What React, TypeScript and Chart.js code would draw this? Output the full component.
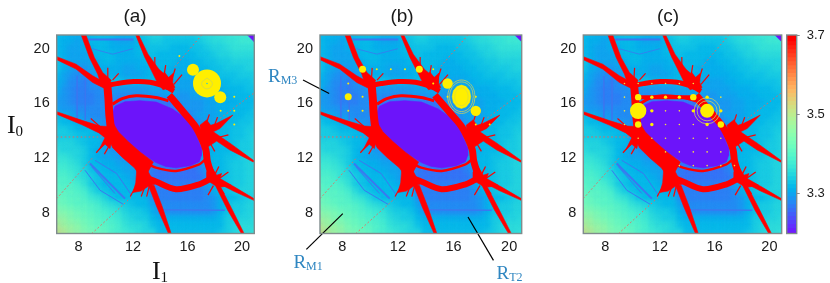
import React, { useEffect, useRef } from "react";
import { Chart, registerables } from "chart.js";

Chart.register(...registerables);

const axisTicks = [8, 12, 16, 20];
const colorbarTicks = [3.3, 3.5, 3.7];
const colorbarLevels = [3.2, 3.21, 3.22, 3.23, 3.24, 3.25, 3.26, 3.27, 3.28, 3.29, 3.3, 3.31, 3.32, 3.33, 3.34, 3.35, 3.36, 3.37, 3.38, 3.39, 3.4, 3.41, 3.42, 3.43, 3.44, 3.45, 3.46, 3.47, 3.48, 3.49, 3.5, 3.51, 3.52, 3.53, 3.54, 3.55, 3.56, 3.57, 3.58, 3.59, 3.6, 3.61, 3.62, 3.63, 3.64, 3.65, 3.66, 3.67, 3.68, 3.69, 3.7];

const fieldColumns = [6.5, 7, 7.5, 8, 8.5, 9, 9.5, 10, 10.5, 11, 11.5, 12, 12.5, 13, 13.5, 14, 14.5, 15, 15.5, 16, 16.5, 17, 17.5, 18, 18.5, 19, 19.5, 20, 20.5, 21];
const fieldRowsY = [21, 20.5, 20, 19.5, 19, 18.5, 18, 17.5, 17, 16.5, 16, 15.5, 15, 14.5, 14, 13.5, 13, 12.5, 12, 11.5, 11, 10.5, 10, 9.5, 9, 8.5, 8, 7.5, 7, 6.5];
// values are (quantity - 3) * 100
const fieldValues = [
  [33,33,32,32,32,33,34,34,34,33,33,33,34,35,36,36,35,35,35,35,35,36,37,37,38,38,39,39,39,39],
  [33,32,32,31,32,33,33,33,32,31,31,31,33,34,35,35,34,34,34,34,34,35,36,37,37,38,38,39,39,39],
  [33,32,31,31,32,32,33,33,32,32,32,32,33,34,34,34,34,33,33,33,34,34,35,36,36,37,38,38,38,38],
  [33,32,31,31,31,32,33,33,33,32,32,32,33,33,34,33,33,33,33,33,33,34,34,35,36,36,37,37,37,37],
  [34,32,31,31,31,31,32,33,33,32,32,32,32,33,33,33,33,33,32,32,33,33,34,34,35,35,36,36,36,36],
  [34,32,31,30,30,31,32,32,32,32,31,31,32,32,33,33,33,32,32,32,32,33,33,34,34,35,35,35,36,36],
  [33,31,30,29,29,30,31,32,32,32,31,31,31,32,33,33,32,32,32,32,32,32,33,33,34,34,34,35,35,35],
  [32,31,29,29,28,29,30,31,34,34,33,33,33,33,33,33,32,32,31,31,31,32,32,33,33,33,34,34,34,35],
  [32,30,29,28,28,29,29,30,30,30,30,30,30,30,31,31,31,31,31,31,31,31,32,32,32,33,33,33,34,34],
  [31,30,29,28,28,28,29,29,30,29,29,29,29,30,30,30,31,31,30,30,31,31,31,32,32,32,33,33,33,34],
  [30,30,29,28,28,28,29,29,29,27,27,27,27,27,27,27,27,27,30,30,30,30,31,31,32,32,32,33,33,33],
  [31,30,30,29,29,29,29,29,27,27,27,27,27,27,27,27,27,27,28,30,30,30,31,31,32,32,33,33,33,34],
  [33,33,31,30,30,29,29,29,27,27,27,27,27,27,27,27,27,27,27,27,30,31,31,31,32,33,33,33,34,34],
  [34,33,33,32,31,30,30,29,27,27,27,27,27,27,27,27,27,27,27,27,27,30,31,31,32,33,33,34,34,35],
  [35,35,34,33,33,33,31,30,27,27,27,27,27,27,27,27,27,27,27,27,27,29,32,32,33,33,34,34,35,35],
  [35,35,35,34,34,33,33,30,27,27,27,27,27,27,27,27,27,27,27,27,27,29,33,33,33,33,34,34,35,36],
  [36,36,36,35,34,33,33,31,30,27,27,27,27,27,27,27,27,27,27,27,27,29,32,33,33,33,34,35,35,36],
  [37,36,36,36,35,33,32,31,30,29,27,27,27,27,27,27,27,27,27,27,27,30,32,32,33,33,34,35,35,36],
  [38,38,37,36,35,33,32,31,31,30,29,27,27,27,27,27,27,27,27,27,27,31,32,33,33,34,34,35,36,36],
  [39,39,38,37,35,33,33,32,32,31,31,30,28,27,27,27,27,27,27,27,27,29,32,33,33,34,35,35,36,36],
  [40,40,39,38,36,34,33,33,32,32,31,31,30,30,28,27,27,27,27,27,27,28,30,33,33,34,35,35,36,36],
  [41,41,40,38,37,35,34,33,33,33,32,31,30,29,27,27,27,27,27,27,27,27,29,31,33,34,35,35,36,36],
  [42,41,41,40,38,35,34,33,33,33,33,32,31,30,29,28,28,28,28,28,28,29,31,32,33,34,35,35,36,36],
  [43,42,42,41,40,37,35,34,33,33,33,33,32,32,28,28,28,28,28,28,28,28,29,32,33,34,35,36,36,36],
  [44,43,42,42,41,39,38,36,34,33,33,33,33,33,29,28,28,28,28,28,28,28,29,30,32,33,33,34,35,36],
  [45,44,43,42,42,41,40,38,37,36,35,34,33,33,31,29,29,29,29,29,29,29,29,30,32,34,35,35,36,36],
  [47,46,45,44,43,42,41,40,39,38,36,35,35,34,32,30,29,29,29,29,29,29,29,30,32,34,35,35,36,36],
  [49,48,46,45,44,43,42,41,40,39,37,36,35,35,33,32,32,32,32,32,32,32,32,32,33,35,35,36,36,37],
  [51,49,48,47,45,44,43,42,41,40,38,37,37,36,34,33,33,33,33,33,33,33,33,33,33,35,36,37,37,37],
  [53,51,49,48,46,45,44,43,41,40,39,38,37,36,36,33,33,33,33,33,33,33,33,33,34,35,36,37,37,38],
];

type Pt = [number, number];

const purpleEllipse: Pt[] = [[10.43,15.15],[10.68,15.8],[11.4,16.12],[12.5,16.2],[13.7,16.1],[14.9,15.6],[16.13,14.73],[16.6,13.75],[17,12.8],[17.02,12.2],[16.86,11.75],[16.2,11.45],[15.15,11.3],[14.4,11.4],[13.68,11.68],[12.51,12.46],[11.66,13.2],[10.92,13.93],[10.56,14.54],[10.43,15.15]];
const purpleCorner: Pt[] = [[20.4,21],[20.9,21],[20.9,20.5],[20.4,21]];

const redBands: Pt[][] = [
  [[10,17.3],[10.8,17.45],[12.02,17.6],[13.25,17.55],[14.47,17.2],[15,16.9]],
  [[10.5,15.95],[11.2,16.35],[12.22,16.56],[13.68,16.44],[14.6,16.2]],
  [[10.1,17.5],[10.2,16.3],[10.26,15.2],[10.4,14]],
  [[14.66,16.6],[15.76,15.3],[16.55,14.35],[17.05,13.4],[17.35,12.6],[17.45,11.8],[17.75,10.8]],
  [[13,11.65],[13.68,11.31],[15.15,11.07],[16.86,11.55],[17.3,11.9]],
  [[12.7,10.7],[13.68,10.3],[15.15,9.73],[16.86,10.09],[17.84,10.58]],
];
const redBandWidths = [5, 3, 8, 7, 2.5, 6];

const redSpikes: Pt[][] = [
  [[10.4,15],[10.56,14.54],[10.92,13.93],[11.66,13.2],[12.51,12.46],[13.49,11.73],[13.1,11],[12.6,10.6],[12.1,11.3],[11.24,12.04],[10.5,12.77],[10.2,13.5],[10.1,14.5],[10.4,15]],
  [[8.2,21],[8.55,21],[9.16,19.36],[9.77,18.26],[10.4,17.7],[10.2,17.2],[9.65,17.41],[9.41,18.14],[8.8,19.36],[8.2,21]],
  [[6.4,19.42],[7.82,18.87],[9.04,18.02],[9.8,17.6],[10.1,17],[9.04,17.53],[7.82,18.51],[6.4,19.2],[6.4,19.42]],
  [[12.2,21],[12.42,21],[13.1,19.6],[13.9,18.5],[14.6,17.9],[14.9,17.2],[14.2,17],[13.75,17.6],[13.35,18.4],[12.85,19.4],[12.2,21]],
  [[13.98,17.46],[14.3,18.3],[14.6,17.9],[14.95,18.2],[14.91,17.51],[15.08,17.17],[14.47,17.02],[13.98,17.46]],
  [[6.4,15.4],[8.3,14.75],[9.6,14.35],[10.4,14.3],[10.7,13.3],[10.2,13.3],[9.5,13.85],[8.3,14.42],[6.4,15.22],[6.4,15.4]],
  [[10.56,13.8],[10.31,12.7],[9.95,13.02],[9.5,12.6],[9.98,13.56],[10.56,13.8]],
  [[16.91,14.41],[17.4,14.8],[17.7,14.4],[18.14,14.55],[19.33,15.15],[18.38,14.17],[17.89,13.93],[19.11,13.1],[20.83,11.85],[20.83,11.72],[19.11,12.6],[18.14,13.25],[17.53,12.85],[17.03,13.56],[16.91,14.41]],
  [[17.4,11],[17.77,11.37],[18.14,10.76],[18.5,10.88],[18.38,10.51],[19.23,10.02],[18.5,9.9],[18.01,10.02],[17.4,10.4],[17.4,11]],
  [[18,10.1],[18.4,9.95],[19.3,8.2],[20.15,6.5],[19.95,6.5],[18.95,8.2],[18,10.1]],
  [[18.14,10.51],[19.36,9.95],[20.87,9.05],[20.87,8.92],[19.36,9.6],[18.2,10.2],[18.14,10.51]],
  [[12.27,11.12],[13,11.24],[13.6,10.1],[13.2,10],[12.6,9.6],[12,9.5],[12.2,10.2],[12.27,11.12]],
  [[13.1,10.1],[13.55,10],[14.15,8.44],[14.8,6.5],[14.6,6.5],[13.75,8.44],[13.1,10.1]],
];

const redHairs: Pt[][] = [
  [[9.6,18],[9.2,18.9]],
  [[10.1,17.8],[10.15,18.6]],
  [[10.5,17.7],[10.95,18.2]],
  [[14.2,17.6],[14.4,18.8]],
  [[14.8,17.6],[15.1,18.55]],
  [[15,17.4],[15.6,18.1]],
  [[17.3,14.3],[17.6,15.2]],
  [[17.9,14.2],[18.2,15]],
  [[17.8,13.4],[19,13.7]],
  [[17.6,13.2],[18,12.5]],
  [[10,13.2],[9.3,12.4]],
  [[10.3,13],[9.9,12.3]],
  [[9.7,14.2],[8.9,14.9]],
  [[12.5,10.5],[11.8,9.2]],
  [[12.9,10],[12.6,9.2]],
  [[13.2,10],[13,9.2]],
  [[18,10.8],[18.3,11.4]],
  [[18.3,10.5],[19,11]],
  [[17.9,10],[17.5,9.3]],
  [[18.3,9.9],[18.7,9.4]],
  [[13.6,18.6],[13.6,19.4]],
];

const redDiagonals: Pt[][] = [
  [[6.4,9.05],[9.09,12.1]],
  [[8.97,6.49],[11.9,9.17]],
  [[17.04,21],[14.96,18.56]],
  [[20.83,16.73],[18.38,14.9]],
  [[6.4,13.55],[9.9,13.55]],
];

const blueStreaks: Pt[][] = [
  [[8.72,20.68],[12.02,20.68]],
  [[14.22,8.24],[18.75,8.2]],
  [[8.84,11.61],[11.41,9.05]],
  [[8.48,11.12],[9.58,9.66],[11.29,8.63]],
  [[9.21,11.85],[10.8,10.88],[11.9,9.29]],
  [[8.97,11.37],[10.68,9.42]],
  [[7.9,18],[7.9,14.6]],
  [[8.5,17.8],[8.5,14.8]],
  [[9,20],[10.5,19.6],[12,20]],
];
const blueStreakWidths = [2, 1.5, 2, 1, 1, 1, 1, 1, 0.8];

const panelAHuge: Pt[] = [[17.43,17.46]];
const panelAHalo: Pt[] = [[17.43,17.46]];
const panelALarge: Pt[] = [[16.4,18.46],[18.4,16.46]];
const panelADots: Pt[] = [[15.4,19.46],[19.43,16.49],[19.43,15.46],[19.43,14.46],[18.43,15.46]];

const panelBCore: Pt[] = [[17.24,16.49],[17.15,16.92],[16.9,17.23],[16.57,17.34],[16.24,17.23],[15.99,16.92],[15.9,16.49],[15.99,16.07],[16.24,15.75],[16.57,15.64],[16.9,15.75],[17.15,16.07],[17.24,16.49]];
const panelBRingA: Pt[] = [[17.55,16.49],[17.42,17.1],[17.06,17.55],[16.57,17.71],[16.08,17.55],[15.72,17.1],[15.59,16.49],[15.72,15.88],[16.08,15.43],[16.57,15.27],[17.06,15.43],[17.42,15.88],[17.55,16.49]];
const panelBRingB: Pt[] = [[17.42,16.49],[17.31,17.03],[17,17.43],[16.57,17.57],[16.14,17.43],[15.83,17.03],[15.72,16.49],[15.83,15.95],[16.14,15.55],[16.57,15.41],[17,15.55],[17.31,15.95],[17.42,16.49]];
const panelBRingC: Pt[] = [[17.05,16.49],[16.99,16.82],[16.81,17.05],[16.57,17.14],[16.33,17.05],[16.15,16.82],[16.09,16.49],[16.15,16.16],[16.33,15.93],[16.57,15.84],[16.81,15.93],[16.99,16.16],[17.05,16.49]];
const panelBLarge: Pt[] = [[15.57,17.46],[17.6,15.46]];
const panelBMedium: Pt[] = [[9.46,18.49],[13.54,18.49],[8.43,16.49]];
const panelBDots: Pt[] = [[10.48,18.49],[11.49,18.49],[12.51,18.49],[14.54,18.49],[8.43,17.46],[8.43,15.46],[9.46,15.46],[9.46,16.49],[14.54,17.46],[15.57,16.49],[17.6,16.49],[17.6,14.46],[18.6,14.46]];

const panelCBands: Pt[][] = [
  [[10.41,16.46],[14.44,16.46]],
  [[14.44,16.46],[16.45,14.46]],
];
const panelCHuge: Pt[] = [[10.41,15.46]];
const panelCHalo: Pt[] = [[15.45,15.46]];
const panelCLarge: Pt[] = [[10.41,16.46],[14.44,16.46],[10.41,14.46],[16.45,14.46]];
const panelCSmall: Pt[] = [[11.41,16.46],[12.41,16.46],[13.42,16.46],[11.41,15.46],[15.45,16.46],[16.45,15.46],[14.44,15.46],[15.45,14.46],[11.41,14.46]];
const panelCDots: Pt[] = [[12.41,15.46],[13.42,15.46],[16.45,16.46],[9.41,16.46],[9.41,15.46],[9.41,14.46],[12.41,14.46],[13.42,14.46],[14.44,14.46],[10.41,13.46],[11.41,13.46],[12.41,13.46],[13.42,13.46],[14.44,13.46],[15.45,13.46],[16.45,13.46],[12.41,12.46],[13.42,12.46],[14.44,12.46],[15.45,12.46],[16.45,12.46],[13.42,11.46],[14.44,11.46],[15.45,11.46],[16.45,11.46],[17.45,11.46],[9.41,17.46],[10.41,17.46],[11.41,17.46],[12.41,17.46],[13.42,17.46],[14.44,17.46]];

const paletteColor = (v: number) => {
  const t = Math.min(1, Math.max(0, (v - 3.2) / 0.5));
  const r = Math.abs(2 * t - 0.5);
  const g = Math.sin(Math.PI * t);
  const b = Math.cos((Math.PI * t) / 2);
  const c = (n: number) => Math.round(255 * Math.min(1, n));
  return `rgb(${c(r)},${c(g)},${c(b)})`;
};

const toXY = (pts: Pt[]) => pts.map(([x, y]) => ({ x, y }));

const polygon = (pts: Pt[], color: string) => ({
  data: toXY(pts), showLine: true, pointRadius: 0, borderWidth: 0.6, borderColor: color,
  backgroundColor: color, fill: "shape",
});
const stroke = (pts: Pt[], color: string, width: number, extra: any = {}) => ({
  data: toXY(pts), showLine: true, pointRadius: 0, borderWidth: width, borderColor: color,
  backgroundColor: color, fill: false, ...extra,
});
const dots = (pts: Pt[], color: string, radius: number) => ({
  data: toXY(pts), showLine: false, pointRadius: radius, pointBorderWidth: 0,
  pointBackgroundColor: color, pointBorderColor: color,
});

const YELLOW = "#ffef00";
const RING = "#c9cf62";
const BLUE_TEXT = "#2f86c1";

const baseDatasets = () => {
  const field: any[] = [];
  fieldRowsY.forEach((y, r) =>
    fieldColumns.forEach((x, c) => field.push({ x, y, v: 3 + fieldValues[r][c] / 100 })),
  );
  const sets: any[] = [
    {
      data: field, showLine: false, pointStyle: "rect", pointRadius: 6.2, pointBorderWidth: 0,
      pointBackgroundColor: (ctx: any) => paletteColor(ctx.raw ? ctx.raw.v : 3.33),
      isField: true,
    },
  ];
  blueStreaks.forEach((s, i) => sets.push(stroke(s, "#3a78f0", blueStreakWidths[i])));
  redDiagonals.forEach((s) => sets.push(stroke(s, "#f0605a", 1, { borderDash: [1.5, 2.5] })));
  sets.push(polygon(purpleEllipse, "#6c14fa"));
  sets.push(polygon(purpleCorner, "#6c14fa"));
  redBands.forEach((s, i) => sets.push(stroke(s, "#ff0000", redBandWidths[i], { tension: 0.3 })));
  redSpikes.forEach((s) => sets.push(polygon(s, "#ff0000")));
  redHairs.forEach((s) => sets.push(stroke(s, "#ff0000", 1.2)));
  return sets;
};

const panelA = () => [
  dots(panelADots, YELLOW, 1),
  dots(panelALarge, YELLOW, 6),
  dots(panelAHuge, YELLOW, 14),
  stroke([[17.43,17.86],[17.83,17.46],[17.43,17.06],[17.03,17.46],[17.43,17.86]], "#dcdc40", 1, { tension: 0.5 }),
  dots(panelAHalo, "#30c8d0", 0.8),
];
const panelB = () => [
  stroke(panelBRingA, RING, 0.8, { tension: 0.4 }),
  stroke(panelBRingB, RING, 0.8, { tension: 0.4 }),
  polygon(panelBCore, YELLOW),
  stroke(panelBRingC, "#e4e030", 1, { tension: 0.4 }),
  dots(panelBLarge, YELLOW, 5.2),
  dots(panelBMedium, YELLOW, 3.5),
  dots(panelBDots, YELLOW, 1),
  stroke([[5.18,17.71],[7.06,16.73]], "#000000", 1.2, { clip: false }),
  stroke([[5.42,5.34],[8.04,7.95]], "#000000", 1.2, { clip: false }),
  stroke([[18.87,4.54],[17.04,7.71]], "#000000", 1.2, { clip: false }),
];
const panelC = () => [
  ...panelCBands.map((s) => stroke(s, "#ff0000", 4)),
  { ...dots(panelCHalo, "rgba(0,0,0,0)", 13), pointBorderWidth: 0.8, pointBorderColor: RING },
  { ...dots(panelCHalo, "rgba(0,0,0,0)", 10), pointBorderWidth: 0.8, pointBorderColor: RING },
  dots(panelCHalo, YELLOW, 7),
  dots(panelCHuge, YELLOW, 8.2),
  dots(panelCLarge, YELLOW, 3.2),
  dots(panelCSmall, YELLOW, 1.7),
  dots(panelCDots, "#f2e440", 0.8),
];

const blurPlugin = {
  id: "fieldBlur",
  beforeDatasetDraw(chart: any, args: any) {
    if (chart.data.datasets[args.index].isField) {
      chart.ctx.save();
      chart.ctx.filter = "blur(2.5px)";
    }
  },
  afterDatasetDraw(chart: any, args: any) {
    if (chart.data.datasets[args.index].isField) chart.ctx.restore();
  },
};

const framePlugin = {
  id: "frame",
  beforeDatasetsDraw(chart: any) {
    const { ctx, chartArea: a } = chart;
    ctx.save();
    ctx.fillStyle = "#22b4e4";
    ctx.fillRect(a.left, a.top, a.right - a.left, a.bottom - a.top);
    ctx.restore();
  },
  afterDatasetsDraw(chart: any) {
    const { ctx, chartArea: a } = chart;
    ctx.save();
    ctx.strokeStyle = "#7f8c8d";
    ctx.lineWidth = 1.4;
    ctx.strokeRect(a.left, a.top, a.right - a.left, a.bottom - a.top);
    ctx.restore();
  },
};

type Note = { main: string; sub: string; x: number; y: number; size: number; subSize: number; color: string; drop: number };

const notesPlugin = (notes: Note[]) => ({
  id: "notes",
  afterDraw(chart: any) {
    const { ctx, scales } = chart;
    ctx.save();
    ctx.textBaseline = "alphabetic";
    ctx.textAlign = "left";
    notes.forEach((n) => {
      const px = scales.x.getPixelForValue(n.x);
      const py = scales.y.getPixelForValue(n.y);
      ctx.fillStyle = n.color;
      ctx.font = `${n.size}px "Liberation Serif"`;
      ctx.fillText(n.main, px, py);
      const w = ctx.measureText(n.main).width;
      ctx.font = `${n.subSize}px "Liberation Serif"`;
      ctx.fillText(n.sub, px + w, py + n.drop);
    });
    ctx.restore();
  },
});

const sans = "'Liberation Sans', Arial, sans-serif";

const makePanel = (
  canvas: HTMLCanvasElement, title: string, extras: any[], plotLeft: number, sidePad: number, notes: Note[],
) => {
  const sets = [...baseDatasets(), ...extras];
  const datasets = sets.map((d, i) => ({ ...d, order: sets.length - i }));
  return new Chart(canvas, {
    type: "scatter",
    data: { datasets },
    plugins: [blurPlugin, framePlugin, notesPlugin(notes)],
    options: {
      animation: false, responsive: false, devicePixelRatio: 1,
      layout: { padding: { left: sidePad, right: sidePad, top: 0, bottom: 0 }, autoPadding: false },
      plugins: {
        legend: { display: false },
        tooltip: { enabled: false },
        title: {
          display: true, text: title, color: "#1a1a1a",
          font: { family: sans, size: 19, weight: "normal", lineHeight: 1.2 },
          padding: { top: 5.2, bottom: 7 },
        },
      },
      scales: {
        x: {
          type: "linear", min: 6.4, max: 20.9,
          afterBuildTicks: (s: any) => { s.ticks = axisTicks.map((value) => ({ value })); },
          afterFit: (s: any) => { s.height = 49.5; },
          grid: { display: false, drawTicks: false },
          border: { display: false },
          ticks: { padding: 5, color: "#1a1a1a", maxRotation: 0, font: { family: sans, size: 14.5 } },
        },
        y: {
          type: "linear", min: 6.5, max: 21,
          afterBuildTicks: (s: any) => { s.ticks = axisTicks.map((value) => ({ value })); },
          afterFit: (s: any) => { s.width = plotLeft - sidePad; },
          grid: { display: false, drawTicks: false },
          border: { display: false },
          ticks: { padding: 7, color: "#1a1a1a", font: { family: sans, size: 14.5 } },
        },
      },
    } as any,
  });
};

const makeColorbar = (canvas: HTMLCanvasElement) =>
  new Chart(canvas, {
    type: "scatter",
    data: {
      datasets: [
        {
          data: colorbarLevels.map((v) => ({ x: 0.5, y: v })),
          showLine: false, pointStyle: "rect", pointRadius: 9, pointBorderWidth: 0,
          pointBackgroundColor: (ctx: any) => paletteColor(ctx.raw ? ctx.raw.y : 3.2),
        },
      ],
    },
    plugins: [framePlugin],
    options: {
      animation: false, responsive: false, devicePixelRatio: 1,
      layout: { padding: { left: 6.7, right: 0, top: 35, bottom: 49.5 }, autoPadding: false },
      plugins: { legend: { display: false }, tooltip: { enabled: false } },
      scales: {
        x: { type: "linear", min: 0, max: 1, display: false },
        y: {
          type: "linear", position: "right", min: 3.2, max: 3.7,
          afterBuildTicks: (s: any) => { s.ticks = colorbarTicks.map((value) => ({ value })); },
          afterFit: (s: any) => { s.width = 33.3; },
          grid: { drawOnChartArea: false, tickLength: 3, color: "#8a8a8a", drawTicks: true },
          border: { display: false },
          ticks: {
            padding: 7, color: "#1a1a1a", font: { family: sans, size: 13 },
            callback: (v: any) => Number(v).toFixed(1),
          },
        },
      },
    } as any,
  });

const boxes = [
  { left: 0, width: 270 },
  { left: 262, width: 280 },
  { left: 548, width: 240 },
  { left: 780, width: 50 },
];

export default function App() {
  const refs = [useRef<HTMLCanvasElement>(null), useRef<HTMLCanvasElement>(null), useRef<HTMLCanvasElement>(null), useRef<HTMLCanvasElement>(null)];
  useEffect(() => {
    const charts = [
      makePanel(refs[0].current!, "(a)", panelA(), 56.7, 15.7, [
        { main: "I", sub: "0", x: 2.75, y: 13.82, size: 26, subSize: 15, color: "#111", drop: 3 },
        { main: "I", sub: "1", x: 13.39, y: 3.2, size: 26, subSize: 15, color: "#111", drop: 3 },
      ]),
      makePanel(refs[1].current!, "(b)", panelB(), 58, 20.3, [
        { main: "R", sub: "M3", x: 2.66, y: 17.58, size: 19, subSize: 12, color: BLUE_TEXT, drop: 2 },
        { main: "R", sub: "M1", x: 4.49, y: 3.95, size: 19, subSize: 12, color: BLUE_TEXT, drop: 2 },
        { main: "R", sub: "T2", x: 19.09, y: 3.2, size: 19, subSize: 12, color: BLUE_TEXT, drop: 2 },
      ]),
      makePanel(refs[2].current!, "(c)", panelC(), 35.3, 6.3, []),
      makeColorbar(refs[3].current!),
    ];
    return () => charts.forEach((c) => c.destroy());
  }, []);
  return (
    <div style={{ position: "absolute", left: 0, top: 0, width: 830, height: 283, background: "#fff", overflow: "hidden" }}>
      {boxes.map((b, i) => (
        <canvas
          key={i}
          ref={refs[i]}
          width={b.width}
          height={283}
          style={{ position: "absolute", left: b.left, top: 0, width: b.width, height: 283, filter: "blur(0.35px)" }}
        />
      ))}
    </div>
  );
}
